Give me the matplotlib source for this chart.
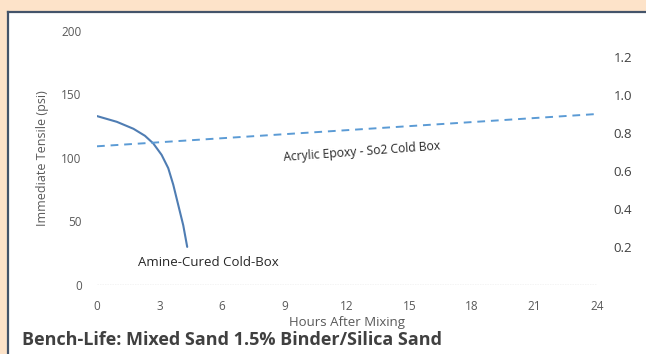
import matplotlib.pyplot as plt
from matplotlib.patches import Rectangle

plt.rcParams.update({
    "font.family": ["Open Sans", "DejaVu Sans"],
    "font.size": 8,
})

# amine-cured cold-box (left axis, psi)
amine_hours = [0, 0.95, 1.75, 2.3, 2.7, 3.1, 3.42, 3.66, 3.9, 4.14, 4.33]
amine_psi = [133, 128.5, 123, 117.5, 111.5, 102.5, 92, 79, 63, 47, 30]

# acrylic epoxy - SO2 cold box (right axis)
acrylic_hours = [0, 24]
acrylic_val = [0.73, 0.90]

x_ticks = [0, 3, 6, 9, 12, 15, 18, 21, 24]
left_ticks = [0, 50, 100, 150, 200]
right_ticks = [0.2, 0.4, 0.6, 0.8, 1.0, 1.2]

W, H = 646, 354
fig = plt.figure(figsize=(W / 100, H / 100), dpi=100)
fig.patch.set_facecolor("#fde3c9")

# white panel with dark border on left and top
fig.patches.append(Rectangle((8 / W, -0.1), 1.0, 1 - 12 / H + 0.1,
                             transform=fig.transFigure, facecolor="white",
                             edgecolor="none", zorder=-5))
fig.lines.append(plt.Line2D([8 / W, 8 / W], [0, 1 - 12 / H], transform=fig.transFigure,
                            color="#44546a", lw=1.6, zorder=-4))
fig.lines.append(plt.Line2D([8 / W, 1], [1 - 12 / H, 1 - 12 / H], transform=fig.transFigure,
                            color="#44546a", lw=1.6, zorder=-4))

ax = fig.add_axes([97 / W, 1 - 285 / H, 500 / W, 254 / H])
ax.set_facecolor("none")
ax2 = ax.twinx()

tick_color = "#595959"

ax.plot(amine_hours, amine_psi, color="#4f7db3", lw=1.5, solid_capstyle="round",
        solid_joinstyle="round")
ax2.plot(acrylic_hours, acrylic_val, color="#5b9bd5", lw=1.4, ls=(0, (4, 3)))

ax.axhline(0, color="#c8c8c8", lw=1.0, ls=(0, (1, 0.8)))

ax.set_xlim(0, 24)
ax.set_ylim(0, 200)
ax2.set_ylim(0, 254 / 190)
ax.set_xticks(x_ticks)
ax.set_yticks(left_ticks)
ax2.set_yticks(right_ticks)
ax2.set_yticklabels([f"{v:.1f}" for v in right_ticks])

for a in (ax, ax2):
    for s in a.spines.values():
        s.set_visible(False)
ax.tick_params(axis="both", length=0, colors=tick_color, labelsize=8.5)
ax.tick_params(axis="y", pad=11)
ax.tick_params(axis="x", pad=11)
ax2.tick_params(axis="y", length=0, colors="#404040", labelsize=9.5, pad=12)

ax.set_ylabel("Immediate Tensile (psi)", color=tick_color, fontsize=9, labelpad=9)
ax.set_xlabel("Hours After Mixing", color=tick_color, fontsize=9.5, labelpad=2)

ax.text(1.95, 15, "Amine-Cured Cold-Box", fontsize=9.5, color="#262626")
ax2.text(8.95, 0.655, "Acrylic Epoxy - So2 Cold Box", fontsize=8.7, color="#262626",
         rotation=4.2, rotation_mode="anchor")

fig.text(22 / W, 1 - 340 / H, "Bench-Life: Mixed Sand 1.5% Binder/Silica Sand",
         fontsize=13, fontweight="bold", color="#404040", va="center")

fig.savefig("out.png", dpi=100, facecolor=fig.get_facecolor())
